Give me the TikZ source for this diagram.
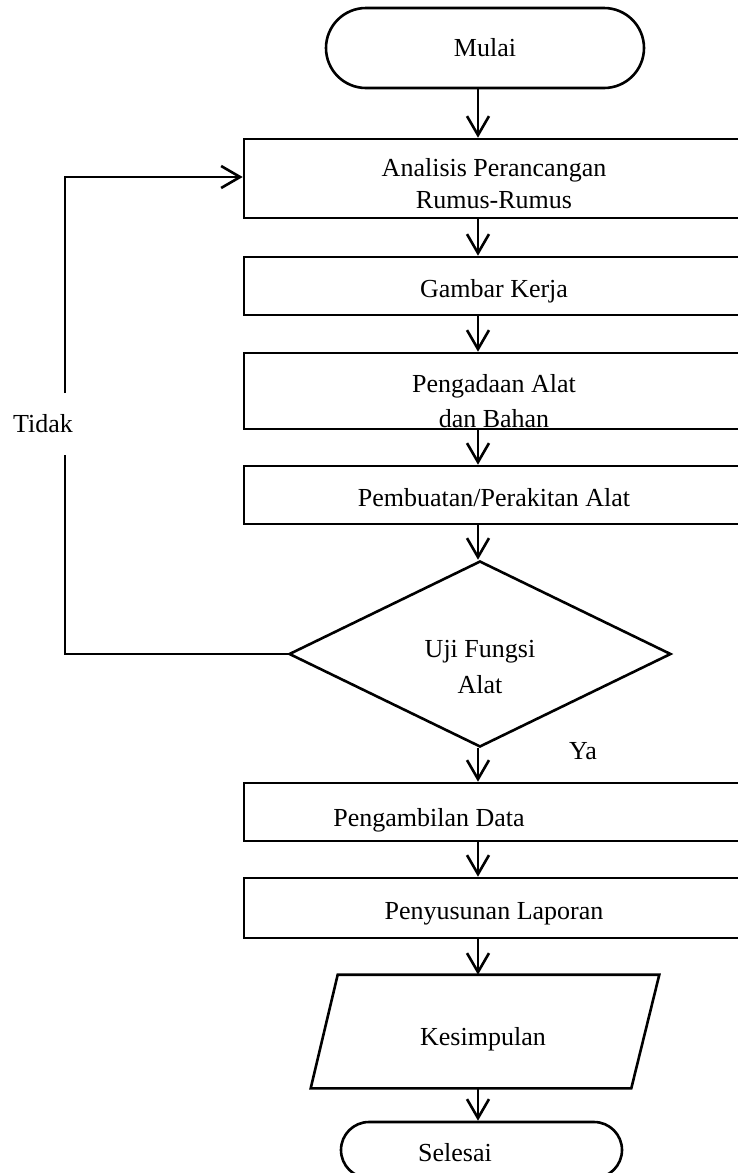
\documentclass[tikz,border=0pt]{standalone}
\usepackage{fontspec}
\setmainfont{Liberation Serif}
\usetikzlibrary{arrows.meta,shapes.geometric}
\begin{document}
\begin{tikzpicture}[x=1pt,y=-1pt,
  line width=2.6pt,
  every node/.style={font=\fontsize{26}{32}\selectfont},
  box/.style={draw, rectangle, minimum width=500, minimum height=58, inner sep=0pt, text height=25pt, text depth=2pt},
  term/.style={draw, rectangle, inner sep=0pt},
  lbl/.style={inner sep=0pt, align=center},
  arr/.style={-{Straight Barb[length=19pt,width=22pt]}},
]
\useasboundingbox (0,0) rectangle (738,1173);
\clip (0,0) rectangle (738,1173);
\coordinate (ax) at (478,0);
\coordinate (lx) at (65,0);

% terminals and boxes
\node[term, minimum width=318, minimum height=80, rounded corners=40pt] (mulai) at (485,48) {Mulai};
\node[box, minimum height=79] (b1) at (494,178.5) {};
\node[lbl] (t1) at (494,183.5) {Analisis Perancangan\\Rumus-Rumus};
\node[box] (b2) at (494,286) {Gambar Kerja};
\node[box, minimum height=76] (b3) at (494,391) {};
\node[lbl, font=\fontsize{26}{35}\selectfont] (t3) at (494,401) {Pengadaan Alat\\dan Bahan};
\node[box] (b4) at (494,495) {Pembuatan/Perakitan Alat};
\node[draw, diamond, minimum width=382, minimum height=186, inner sep=0pt] (uji) at (480,654) {};
\node[lbl, font=\fontsize{26}{36}\selectfont] (tuji) at (480,667) {Uji Fungsi\\Alat};
\node[lbl] (ya) at (583,751) {Ya};
\node[box] (b5) at (494,812) {};
\node[lbl] (t5) at (429,820) {Pengambilan Data};
\node[box, minimum height=60] (b6) at (494,908) {Penyusunan Laporan};
\node[inner sep=0pt, minimum width=346, minimum height=111] (kes) at (485,1031.5) {};
\node[lbl] (tkes) at (483,1039) {Kesimpulan};
\draw ([xshift=27pt]kes.north west) -- (kes.north east) -- ([xshift=-28pt]kes.south east) -- (kes.south west) -- cycle;
\node[term, minimum width=281, minimum height=56, rounded corners=28pt] (sel) at (481.5,1150) {};
\node[lbl] (tsel) at (455,1153) {Selesai};
\node[lbl, minimum height=59] (tidak) at (43,424) {Tidak};

% connectors
\draw[arr] (mulai.south -| ax) -- (b1.north -| ax);
\draw[arr] (b1.south -| ax) -- (b2.north -| ax);
\draw[arr] (b2.south -| ax) -- (b3.north -| ax);
\draw[arr] (b3.south -| ax) -- (b4.north -| ax);
\draw[arr] (b4.south -| ax) -- (uji.north -| ax);
\draw[arr] (uji.south -| ax) -- (b5.north -| ax);
\draw[arr] (b5.south -| ax) -- (b6.north -| ax);
\draw[arr] (b6.south -| ax) -- (kes.north -| ax);
\draw[arr] (kes.south -| ax) -- (sel.north -| ax);
\draw (uji.west) -- (uji.west -| lx) -- (tidak.south -| lx);
\draw[arr] (tidak.north -| lx) -- ([yshift=1.5pt]b1.west -| lx) -- ([yshift=1.5pt]b1.west);
\end{tikzpicture}
\end{document}
